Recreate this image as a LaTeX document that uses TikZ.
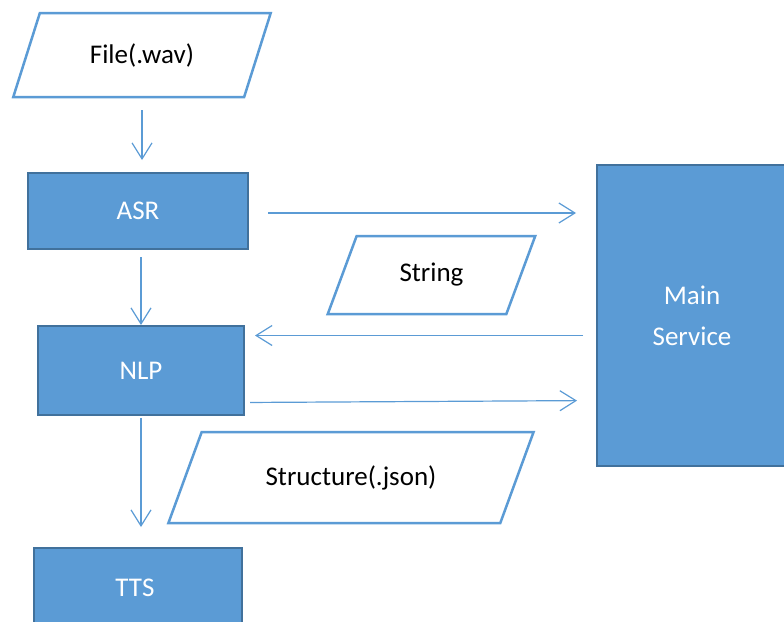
\documentclass[tikz,border=0pt]{standalone}
\usepackage{fontspec}
\setmainfont{Carlito}
\usetikzlibrary{shapes.geometric,arrows.meta}

\definecolor{procfill}{HTML}{5B9BD5}
\definecolor{procborder}{HTML}{41719C}
\definecolor{flowline}{HTML}{5B9BD5}

\tikzset{
  proc/.style={draw=procborder, fill=procfill, line width=2pt, text=white,
    font=\fontsize{27}{41}\selectfont, align=center, inner sep=0pt, outer sep=0pt},
  data/.style={draw=flowline, fill=white, line width=2.5pt, text=black,
    font=\fontsize{27}{33}\selectfont, shape=trapezium, trapezium stretches=true,
    inner sep=0pt, outer sep=0pt},
  flow/.style={draw=flowline, line width=1.2pt,
    -{Straight Barb[length=16pt, width=20pt, line width=1.2pt]}}
}

\begin{document}
\begin{tikzpicture}[x=1pt, y=-1pt]
  \useasboundingbox (0, 0) rectangle (784, 621);

  % blue boxes
  \foreach \name / \x / \y / \w / \h / \txt in {
    asr/138/211/220/76/ASR,
    nlp/141/370.5/206/89/NLP,
    tts/138/588/208/80/TTS
  }{
    \node[proc, minimum width=\w pt, minimum height=\h pt] (\name) at (\x, \y) {\txt};
  }
  \node[proc, minimum width=190pt, minimum height=301pt] (main) at (692, 315.5) {Main\\Service};

  % data shapes
  \foreach \name / \x / \y / \w / \h / \ang / \txt in {
    file/142/55/258/84/60/File(.wav),
    str/431.5/275/209/78/62/String,
    json/351/477.5/366/91/52/Structure(.json)
  }{
    \node[data, trapezium left angle=\ang, trapezium right angle=180-\ang,
      minimum width=\w pt, minimum height=\h pt] (\name) at (\x, \y) {\txt};
  }

  % arrows
  \draw[flow, shorten <=13pt, shorten >=13pt] (file.south) -- (file.south |- asr.north);
  \draw[flow, shorten <=20pt, shorten >=21pt] ([yshift=-2pt]asr.east) -- ([yshift=-2pt]asr.east -| main.west);
  \draw[flow, shorten <=8pt, shorten >=1pt] (nlp.north |- asr.south) -- (nlp.north);
  \draw[flow, shorten <=14pt, shorten >=11pt] ([yshift=35pt]nlp.east -| main.west) -- ([yshift=35pt]nlp.east);
  \draw[flow, shorten <=6pt, shorten >=20pt] ([yshift=-32pt]nlp.east) -- ([yshift=-30pt]nlp.east -| main.west);
  \draw[flow, shorten <=3pt, shorten >=21pt] (nlp.south) -- (nlp.south |- tts.north);
\end{tikzpicture}
\end{document}
